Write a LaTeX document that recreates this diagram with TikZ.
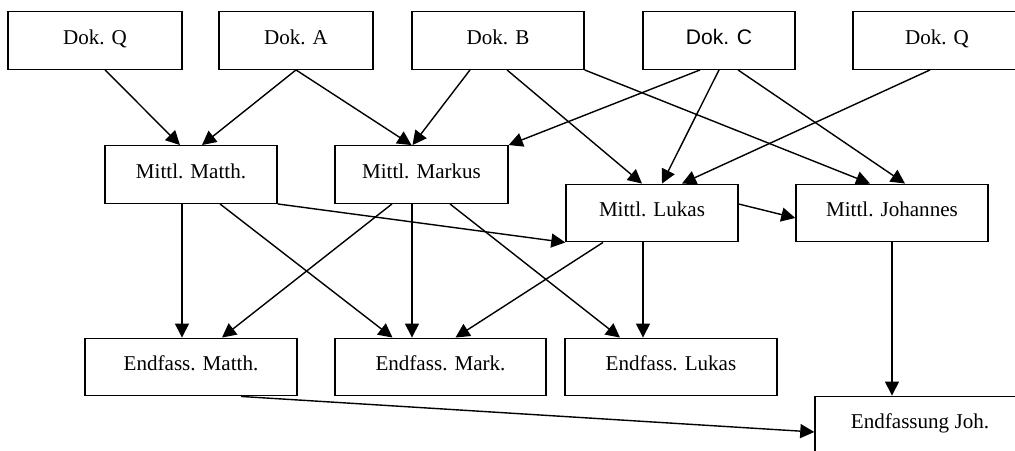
\documentclass[tikz,border=0pt]{standalone}
\usepackage{fontspec}
\setmainfont{Liberation Serif}
\newfontfamily\dokfont{Liberation Sans}
\usetikzlibrary{calc}
\usetikzlibrary{arrows.meta}

\tikzset{
  box/.style={draw, line width=0.8pt, rectangle, inner sep=0pt, minimum height=1.15cm, text height=9pt, text depth=5pt, font=\fontsize{12}{14}\selectfont},
  pfeil/.style={line width=0.8pt, -{Triangle[length=8pt,width=8pt]}}
}

\begin{document}
\begin{tikzpicture}[x=0.02cm, y=-0.02cm]
    \useasboundingbox (0,0) rectangle (1015,450);
    % Dokumente
    \node[box, minimum width=3.48cm] (dq1) at (95,40.5) {Dok. Q};
    \node[box, minimum width=3.08cm] (da) at (296,40.5) {Dok. A};
    \node[box, minimum width=3.44cm] (db) at (498,40.5) {Dok. B};
    \node[box, minimum width=3.04cm, font=\dokfont\fontsize{12}{14}\selectfont] (dc) at (719,40.5) {Dok. C};
    \node[box, minimum width=3.36cm] (dq2) at (937,40.5) {Dok. Q};
    % Mittlere Fassungen
    \node[box, minimum width=3.44cm] (mmt) at (191,174.5) {Mittl. Matth.};
    \node[box, minimum width=3.46cm] (mmk) at (421.5,174.5) {Mittl. Markus};
    \node[box, minimum width=3.44cm] (mlk) at (652,213) {Mittl. Lukas};
    \node[box, minimum width=3.84cm] (mjo) at (892,213) {Mittl. Johannes};
    % Endfassungen
    \node[box, minimum width=4.24cm] (emt) at (191,367) {Endfass. Matth.};
    \node[box, minimum width=4.22cm] (emk) at (440.5,367) {Endfass. Mark.};
    \node[box, minimum width=4.24cm] (elk) at (671,367) {Endfass. Lukas};
    \node[box, minimum width=4.20cm] (ejo) at (920,425) {Endfassung Joh.};

    \draw[pfeil] ($(dq1.south)+(10,0)$) -- ($(mmt.north)+(-11,0)$);
    \draw[pfeil] (da.south) -- ($(mmt.north)+(11,0)$);
    \draw[pfeil] (da.south) -- ($(mmk.north)+(-10,0)$);
    \draw[pfeil] ($(db.south)+(-28,0)$) -- ($(mmk.north)+(-9,0)$);
    \draw[pfeil] ($(db.south)+(9,0)$) -- ($(mlk.north)+(-10,0)$);
    \draw[pfeil] (db.south east) -- ($(mjo.north)+(-22,0)$);
    \draw[pfeil] ($(dc.south)+(-19,0)$) -- (mmk.north east);
    \draw[pfeil] (dc.south) -- ($(mlk.north)+(10,0)$);
    \draw[pfeil] ($(dc.south)+(19,0)$) -- ($(mjo.north)+(13,0)$);
    \draw[pfeil] ($(dq2.south)+(-7,0)$) -- ($(mlk.north)+(30,0)$);

    \draw[pfeil] (mmt.south east) -- (mlk.south west);
    \draw[pfeil] ($(mlk.east)+(0,-9)$) -- ($(mjo.west)+(0,5)$);

    \draw[pfeil] ($(mmt.south)+(-9,0)$) -- ($(emt.north)+(-9,0)$);
    \draw[pfeil] ($(mmt.south)+(29,0)$) -- ($(emk.north)+(-48,0)$);
    \draw[pfeil] ($(mmk.south)+(-29.5,0)$) -- ($(emt.north)+(31,0)$);
    \draw[pfeil] ($(mmk.south)+(-9.5,0)$) -- ($(emk.north)+(-28.5,0)$);
    \draw[pfeil] ($(mmk.south)+(28.5,0)$) -- ($(elk.north)+(-51,0)$);
    \draw[pfeil] ($(mlk.south)+(-49,0)$) -- ($(emk.north)+(15,0)$);
    \draw[pfeil] ($(mlk.south)+(-9,0)$) -- ($(elk.north)+(-28,0)$);
    \draw[pfeil] (mjo.south) -- ($(ejo.north)+(-28,0)$);
    \draw[pfeil] ($(emt.south)+(50,0)$) -- ($(ejo.west)+(0,7)$);
\end{tikzpicture}
\end{document}
